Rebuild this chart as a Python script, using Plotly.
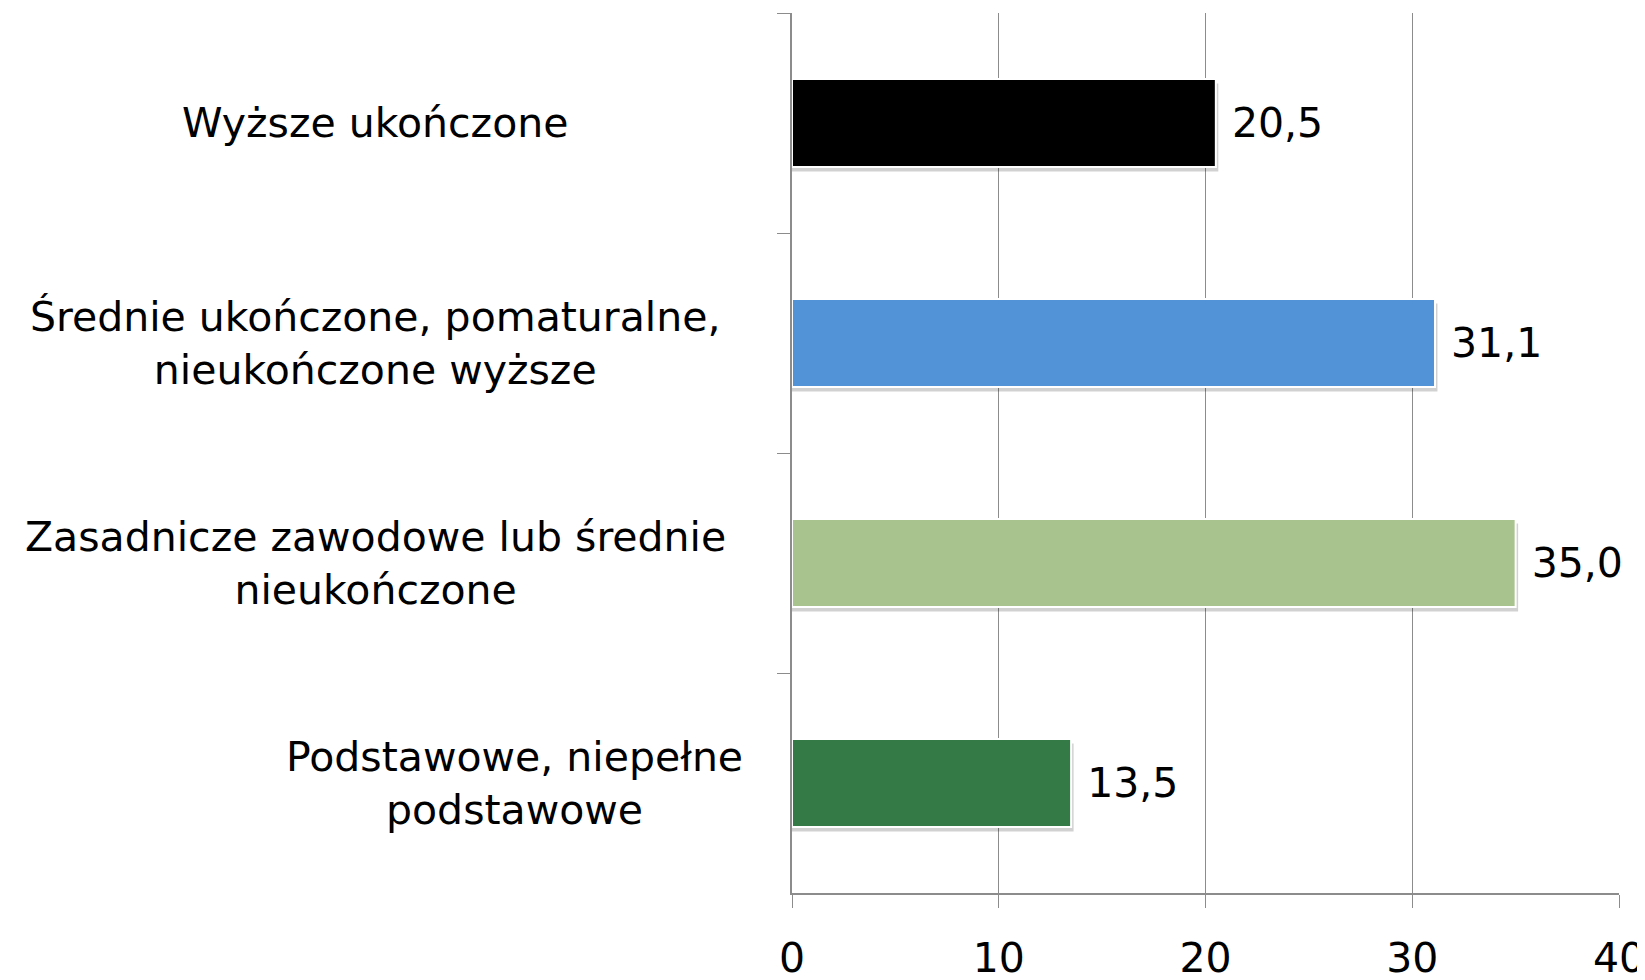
import plotly.graph_objects as go

# categories top to bottom
categories = [
    "Wyższe ukończone",
    "Średnie ukończone, pomaturalne,<br>nieukończone wyższe",
    "Zasadnicze zawodowe lub średnie<br>nieukończone",
    "Podstawowe, niepełne<br>podstawowe",
]
values = [20.5, 31.1, 35.0, 13.5]
colors = ["#000000", "#5292D6", "#A9C38F", "#347A46"]
x_ticks = [0, 10, 20, 30, 40]

FONT = "DejaVu Sans"
GRID = "#8c8c8c"
FS = 41

fig = go.Figure()

# soft drop shadow under each bar
fig.add_trace(go.Bar(
    y=categories,
    x=[v + 0.12 for v in values],
    orientation="h",
    width=0.4, offset=-0.18,
    marker=dict(color="rgba(0,0,0,0.18)", line=dict(width=0)),
    hoverinfo="skip",
    showlegend=False,
))

fig.add_trace(go.Bar(
    y=categories,
    x=values,
    orientation="h",
    width=0.4, offset=-0.2,
    marker=dict(color=colors, line=dict(color="white", width=2)),
    text=["\u00a0" + f"{v:.1f}".replace(".", ",") for v in values],
    textposition="outside",
    cliponaxis=False,
    textfont=dict(family=FONT, size=FS, color="black"),
    showlegend=False,
))

# category labels, centred blocks left of the axis
label_x = [-0.504, -0.504, -0.504, -0.336]
for cat, lx in zip(categories, label_x):
    fig.add_annotation(
        x=lx, xref="paper", y=cat, yref="y",
        text=cat, showarrow=False, align="center",
        xanchor="center", yanchor="middle",
        font=dict(family=FONT, size=FS, color="black"),
    )

fig.update_layout(
    width=1645, height=980,
    margin=dict(l=784, r=34, t=5, b=95),
    plot_bgcolor="white", paper_bgcolor="white",
    barmode="overlay",
    xaxis=dict(
        range=[0, 40], tickvals=x_ticks,
        showgrid=True, gridcolor=GRID, gridwidth=1,
        showline=True, linecolor=GRID, linewidth=1.5,
        ticks="outside", ticklen=13, tickcolor=GRID,
        tickfont=dict(family=FONT, size=FS, color="black"),
        ticklabelstandoff=15,
        zeroline=False,
        automargin=False,
    ),
    yaxis=dict(
        autorange="reversed",
        showticklabels=False,
        showline=True, linecolor=GRID, linewidth=1.5,
        ticks="outside", ticklen=13, tickcolor=GRID,
        tickson="boundaries",
        showgrid=False,
        automargin=False,
    ),
)

fig.write_html("out.html")
